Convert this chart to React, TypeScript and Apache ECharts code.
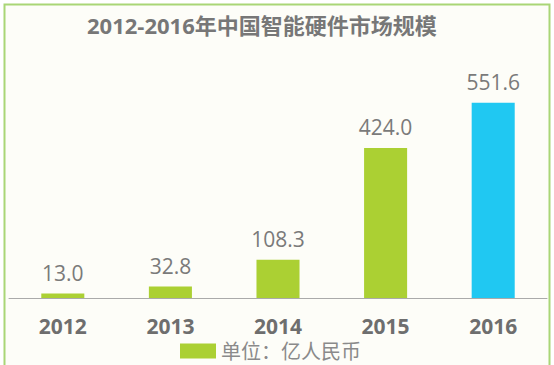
import React, { useEffect, useRef } from "react";
import * as echarts from "echarts";

const categories = ["2012", "2013", "2014", "2015", "2016"];
const values = [13.0, 32.8, 108.3, 424.0, 551.6];
const titleText = "2012-2016年中国智能硬件市场规模";
const legendName = "单位：亿人民币";

const GREEN = "#abd033";
const BLUE = "#20c8f2";

export default function App() {
  const ref = useRef<HTMLDivElement>(null);
  useEffect(() => {
    if (!ref.current) return;
    const chart = echarts.init(ref.current, null, { renderer: "svg" });
    const font = "'Open Sans', 'Noto Sans CJK SC', sans-serif";
    chart.setOption({
      animation: false,
      backgroundColor: "#ffffff",
      graphic: [
        {
          type: "rect",
          z: -10,
          silent: true,
          shape: { x: 4.5, y: 4.5, width: 545, height: 380 },
          style: { fill: "#fdfdf8", stroke: "#a9d676", lineWidth: 2 },
        },
      ],
      title: {
        text: titleText,
        left: 82,
        top: 9,
        textStyle: {
          fontFamily: font,
          fontSize: 22,
          fontWeight: "bold",
          color: "#777777",
        },
      },
      legend: {
        top: 341,
        left: 180,
        padding: 0,
        itemWidth: 36,
        itemHeight: 15,
        itemGap: 12,
        icon: "rect",
        textStyle: { fontFamily: font, fontSize: 20, lineHeight: 20, color: "#8a8a8a" },
        data: [{ name: legendName, itemStyle: { color: GREEN } }],
      },
      grid: { left: 9, right: 7, top: 85.6, bottom: 67, containLabel: false },
      xAxis: {
        type: "category",
        data: categories,
        axisLine: { lineStyle: { color: "#aaaaaa", width: 1 } },
        axisTick: { show: false },
        axisLabel: {
          margin: 17,
          fontFamily: font,
          fontSize: 21,
          fontWeight: "bold",
          color: "#6e6e6e",
        },
      },
      yAxis: {
        type: "value",
        min: 0,
        max: 600,
        show: false,
        splitLine: { show: false },
      },
      series: [
        {
          name: legendName,
          type: "bar",
          barWidth: "40%",
          data: values.map((v, i) => ({
            value: v,
            itemStyle: { color: i === values.length - 1 ? BLUE : GREEN },
          })),
          label: {
            show: true,
            position: "top",
            distance: 10,
            formatter: (p: any) => Number(p.value).toFixed(1),
            fontFamily: font,
            fontSize: 21,
            color: "#7a7a7a",
          },
        },
      ],
    });
    return () => chart.dispose();
  }, []);
  return (
    <div
      ref={ref}
      style={{ position: "absolute", left: 0, top: 0, width: 554, height: 365 }}
    />
  );
}
